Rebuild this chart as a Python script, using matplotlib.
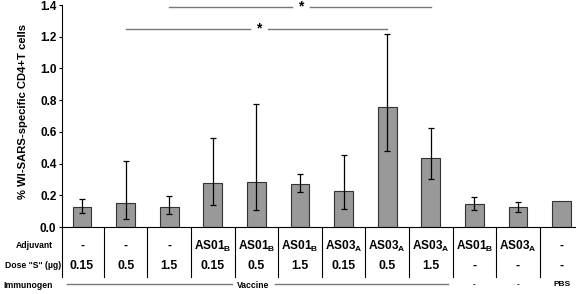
import matplotlib
matplotlib.use('Agg')
import matplotlib.pyplot as plt
import numpy as np

plt.rcParams['font.family'] = ['Liberation Sans', 'DejaVu Sans']
plt.rcParams['font.weight'] = 'bold'
plt.rcParams['mathtext.fontset'] = 'custom'
plt.rcParams['mathtext.bf'] = 'Liberation Sans:bold'
plt.rcParams['mathtext.rm'] = 'Liberation Sans:bold'

means = [0.124, 0.149, 0.128, 0.275, 0.286, 0.269, 0.229, 0.759, 0.435, 0.145, 0.124, 0.166]
err_hi = [0.178, 0.414, 0.195, 0.559, 0.774, 0.332, 0.456, 1.215, 0.626, 0.187, 0.158, None]
err_lo = [0.086, 0.052, 0.082, 0.139, 0.107, 0.219, 0.113, 0.479, 0.303, 0.109, 0.097, None]

adjuvant = ['-', '-', '-', r'AS01$_\mathbf{B}$', r'AS01$_\mathbf{B}$', r'AS01$_\mathbf{B}$',
            r'AS03$_\mathbf{A}$', r'AS03$_\mathbf{A}$', r'AS03$_\mathbf{A}$',
            r'AS01$_\mathbf{B}$', r'AS03$_\mathbf{A}$', '-']
dose = ['0.15', '0.5', '1.5', '0.15', '0.5', '1.5', '0.15', '0.5', '1.5', '-', '-', '-']
immunogen_other = {9: '-', 10: '-', 11: 'PBS'}

# significance brackets: (bar from, bar to, y, star x)
sig = [(2, 8, 1.39, 5.02), (1, 7, 1.25, 4.06)]

fig = plt.figure(figsize=(5.76, 2.94), dpi=100)
ax = fig.add_axes([62 / 576, 1 - 227 / 294, 1 - 62 / 576, 222 / 294])

x = np.arange(len(means))
ax.bar(x, means, width=0.43, color='#999999', edgecolor='#333333', linewidth=0.8, zorder=2)

for i in range(len(means)):
    if err_hi[i] is None:
        continue
    ax.errorbar(x[i], means[i], yerr=[[means[i] - err_lo[i]], [err_hi[i] - means[i]]],
                fmt='none', ecolor='black', elinewidth=0.9, capsize=2, capthick=0.9, zorder=3)

for a, b, y, sx in sig:
    ax.plot([a, sx - 0.2], [y, y], color='#777777', lw=1.0, clip_on=False)
    ax.plot([sx + 0.2, b], [y, y], color='#777777', lw=1.0, clip_on=False)
    ax.text(sx, y, '*', ha='center', va='center', fontsize=10, fontweight='bold')

ax.set_xlim(-0.46, 11.33)
ax.set_ylim(0, 1.4)
ax.set_yticks(np.arange(0, 1.41, 0.2))
ax.set_yticklabels([f'{v:.1f}' for v in np.arange(0, 1.41, 0.2)], fontsize=8.5, fontweight='bold')
ax.tick_params(axis='y', length=2, width=0.8, pad=2)
ax.set_xticks([])
ax.spines['top'].set_visible(False)
ax.spines['right'].set_visible(False)
ax.spines['left'].set_linewidth(0.8)
ax.spines['bottom'].set_linewidth(0.8)
ax.set_ylabel('% WI-SARS-specific CD4+T cells', fontsize=8.1, fontweight='bold')
ax.yaxis.set_label_coords(-34 / 514, 0.52)

tr = ax.get_xaxis_transform()
def fy(p):
    return (227 - p) / 222

for s in np.arange(-0.5, 11, 1.0):
    ax.plot([max(s, -0.46), max(s, -0.46)], [0, fy(277)], color='black', lw=0.8,
            transform=tr, clip_on=False)

for i in range(len(means)):
    ax.text(x[i], fy(246), adjuvant[i], ha='center', va='center', fontsize=8.6,
            fontweight='bold', transform=tr)
    ax.text(x[i], fy(266), dose[i], ha='center', va='center', fontsize=8.8,
            fontweight='bold', transform=tr)
for i, t in immunogen_other.items():
    ax.text(x[i], fy(285), t, ha='center', va='center', fontsize=6,
            fontweight='bold', transform=tr)

fig.text(53 / 576, 1 - 246 / 294, 'Adjuvant', ha='right', va='center', fontsize=6.2, fontweight='bold')
fig.text(61 / 576, 1 - 266 / 294, 'Dose "S" (\u00b5g)', ha='right', va='center', fontsize=6.2, fontweight='bold')
fig.text(53 / 576, 1 - 285 / 294, 'Immunogen', ha='right', va='center', fontsize=6.2, fontweight='bold')

ax.plot([-0.34, 3.45], [fy(283.5)] * 2, color='#777777', lw=1.0, transform=tr, clip_on=False)
ax.plot([4.42, 8.4], [fy(283.5)] * 2, color='#777777', lw=1.0, transform=tr, clip_on=False)
ax.text(3.93, fy(285.5), 'Vaccine', ha='center', va='center', fontsize=6.2,
        fontweight='bold', transform=tr)

fig.savefig('out.png', dpi=100)
